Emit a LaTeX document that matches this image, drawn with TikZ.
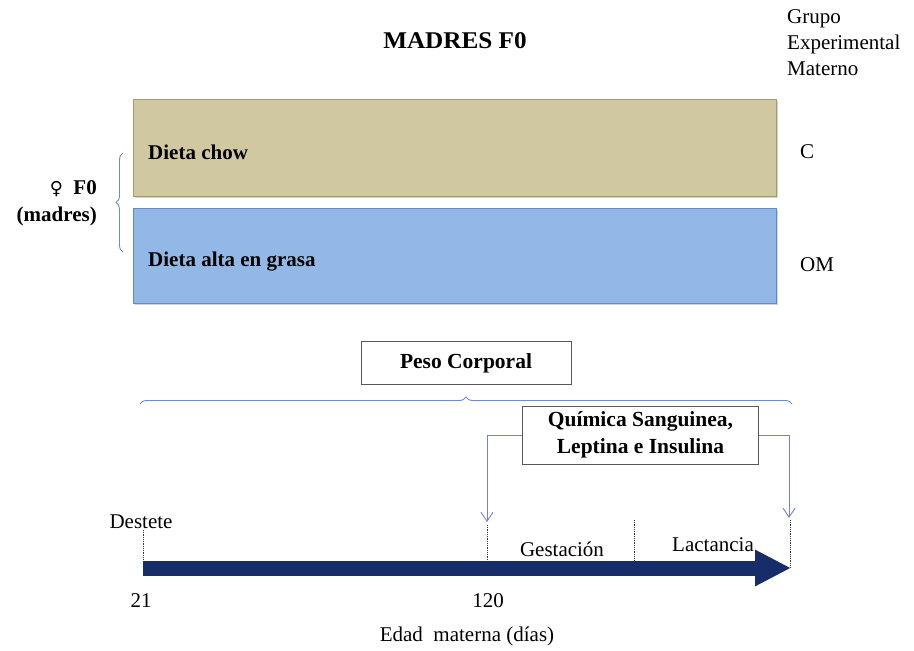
\documentclass[tikz,border=0pt]{standalone}
\usepackage{fontspec}
\setmainfont{Liberation Serif}
\newfontfamily\symfnt{DejaVu Sans}
\usetikzlibrary{arrows.meta,decorations.pathreplacing,shadows}
\definecolor{tanfill}{RGB}{207,200,160}
\definecolor{tanedge}{RGB}{160,155,115}
\definecolor{bluefill}{RGB}{145,184,230}
\definecolor{blueedge}{RGB}{100,140,195}
\definecolor{navy}{RGB}{22,45,105}
\definecolor{conncol}{RGB}{115,130,205}
\definecolor{bracecol}{RGB}{110,140,200}
\begin{document}
\begin{tikzpicture}[x=1pt,y=-1pt,
  reg/.style={font=\fontsize{21}{26}\selectfont, inner sep=0pt},
  bld/.style={font=\fontsize{21}{27}\selectfont\bfseries, inner sep=0pt},
  dietbox/.style={minimum width=643pt, inner sep=0pt, line width=0.8pt,
    drop shadow={shadow xshift=1.5pt, shadow yshift=-2pt, opacity=0.35}},
  labbox/.style={draw=black!65, line width=0.9pt, fill=white, inner sep=0pt,
    font=\fontsize{21.5}{27}\selectfont\bfseries, align=center},
  conn/.style={draw=conncol, line width=0.9pt, -{Straight Barb[length=9pt,width=12pt]}},
  bracestyle/.style={draw=bracecol, line width=0.9pt,
    decorate, decoration={brace, amplitude=7pt}},
  dots/.style={draw=black!80, line width=0.8pt, densely dotted}]
\useasboundingbox (0,0) rectangle (914,651);

% title and column header
\node[bld, font=\fontsize{24}{28}\selectfont\bfseries, xscale=1.05] (title) at (455,41) {MADRES F0};
\node[reg, anchor=north west, align=left] (grupo) at (787,9) {Grupo\\Experimental\\Materno};

% diet bars
\node[dietbox, fill=tanfill, draw=tanedge, minimum height=97pt] (chow) at (454.5,147.5) {};
\node[dietbox, fill=bluefill, draw=blueedge, minimum height=95pt] (fat) at (454.5,255.5) {};
\node[bld, anchor=west] (chowtxt) at (148,152) {Dieta chow};
\node[bld, anchor=west] (fattxt) at (148,262) {Dieta alta en grasa};
\node[reg, anchor=west] (gc) at (800,152) {C};
\node[reg, anchor=west] (gom) at (800,265) {OM};

% left brace and label
\draw[bracestyle] (123,252) -- (123,153);
\node[bld, anchor=east, align=right] (mothers) at (97,203) {{\symfnt\mdseries\fontsize{18}{27}\selectfont ♀}\ \ F0\\(madres)};

% measurement boxes
\node[labbox, minimum width=210pt, minimum height=43pt] (peso) at (466,363) {Peso Corporal};
\draw[bracestyle] (140,404) -- (792,404);

\node[labbox, minimum width=236pt, minimum height=58pt] (quim) at (640.5,435) {Química Sanguinea,\\Leptina e Insulina};
\coordinate (a1) at (487,522);
\coordinate (a2) at (789,518);
\draw[conn] (quim.west) -| (a1);
\draw[conn] (quim.east) -| (a2);

% timeline
\coordinate (tstart) at (143,568);
\coordinate (tend) at (791,568);
\draw[navy, line width=15pt, -{Triangle[length=36pt,width=34pt]}] (tstart) -- (tend);
\draw[dots] (143,530) -- (143,562);
\draw[dots] (487,525) -- (487,562);
\draw[dots] (634,520) -- (634,562);
\draw[dots] (790,520) -- (790,568);

\node[reg] (destete) at (141,522) {Destete};
\node[reg] (gest) at (562,549) {Gestación};
\node[reg] (lact) at (713,545) {Lactancia};
\node[reg] (d21) at (141,601) {21};
\node[reg] (d120) at (488,601) {120};
\node[reg] (edad) at (467,636) {Edad\ \ materna (días)};
\end{tikzpicture}
\end{document}
